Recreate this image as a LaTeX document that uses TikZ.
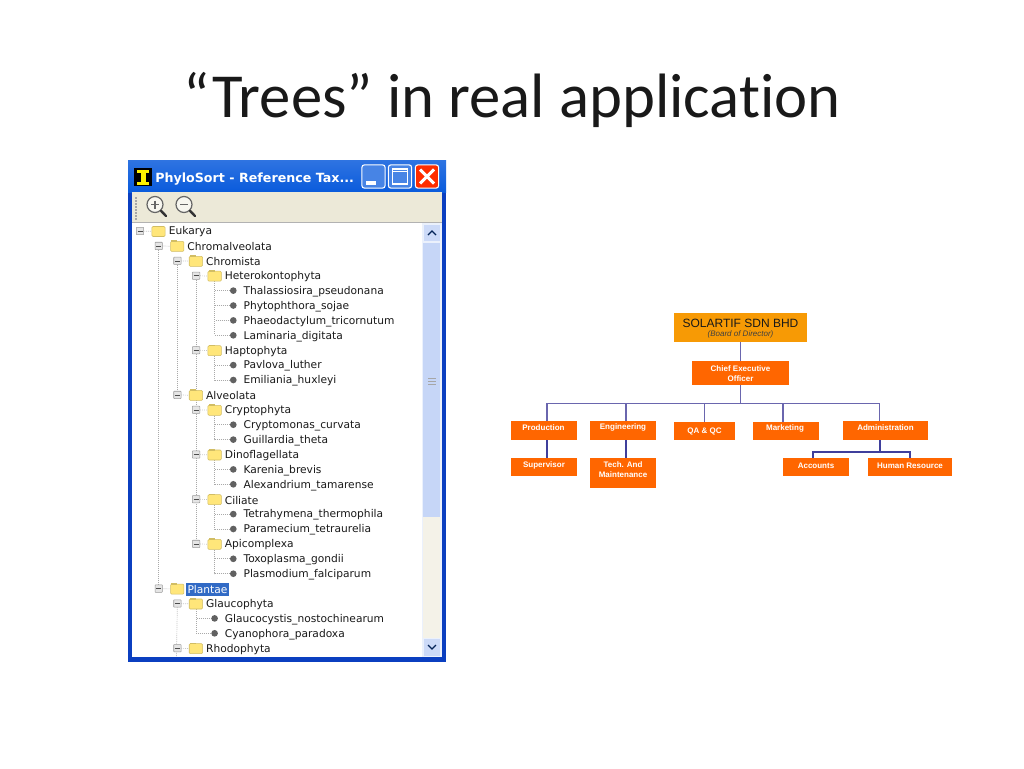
\documentclass[tikz,border=0pt]{standalone}
\usepackage{fontspec}
\setmainfont{Carlito}[RawFeature={-liga;-dlig;-clig}]
\newfontfamily\uifont{DejaVu Sans}
\newfontfamily\orgfont{Liberation Sans}
\usetikzlibrary{backgrounds,shadings}
\definecolor{orgorange}{HTML}{FF6600}
\definecolor{orgtop}{HTML}{F79A05}
\definecolor{orgline}{HTML}{6A66AE}
\definecolor{orgdark}{HTML}{3F3F9C}
\definecolor{xpblue}{HTML}{0A5BDC}
\definecolor{xpdeep}{HTML}{0B3FC0}
\definecolor{xpbeige}{HTML}{ECE9D8}
\definecolor{folderyellow}{HTML}{FFE67A}
\definecolor{treegray}{HTML}{A9A9A9}
\definecolor{thumb}{HTML}{C6D6F7}
\definecolor{selblue}{HTML}{316AC5}
\tikzset{
  x=0.75pt,y=-0.75pt,
  orgbox/.style={fill=orgorange,text=white,font=\orgfont\bfseries\fontsize{6}{7.4}\selectfont,align=center,inner sep=0pt,anchor=center},
  orgcap/.style={inner sep=0pt,text=white,font=\orgfont\bfseries\fontsize{6}{7.4}\selectfont,align=center},
  orglink/.style={draw=orgline,line width=0.9pt},
  orglinkdark/.style={draw=orgdark,line width=1pt},
  treeline/.style={draw=treegray,line width=0.5pt,densely dotted},
  foldernode/.style={draw=black!18!folderyellow,fill=folderyellow,rounded corners=0.8pt,minimum width=10pt,minimum height=7.5pt,inner sep=0pt,line width=0.4pt},
  expander/.style={draw=gray!80,fill=gray!20,minimum size=5.5pt,inner sep=0pt,line width=0.4pt,rounded corners=0.4pt},
  leafdot/.style={circle,fill=black!62,inner sep=0pt,minimum size=5pt},
  treetext/.style={anchor=west,inner sep=0pt,text=black!90,font=\uifont\fontsize{8}{9}\selectfont},
  winbutton/.style={draw=white,line width=0.8pt,rounded corners=2pt,minimum size=17.5pt,inner sep=0pt},
  lens/.style={circle,draw=black!60,line width=0.9pt,fill=xpbeige!40!white,minimum size=12pt,inner sep=0pt},
  handle/.style={line width=1.8pt,draw=black!80,line cap=round}
}
\begin{document}
\begin{tikzpicture}
\useasboundingbox (0,0) rectangle (1024,768);
\begin{pgfonlayer}{background}
\fill[white] (0,0) rectangle (1024,768);
% window chrome
\fill[xpdeep] (128,160) rectangle (446,662);
\shade[top color=xpblue!85!white,bottom color=xpblue] (128,160) rectangle (446,192);
\fill[xpbeige] (132,192) rectangle (442,657);
\fill[white] (132,223) rectangle (422,657);
\draw[black!30,line width=0.4pt] (132,222.5) -- (442,222.5);
\fill[thumb!35!white] (422,223) rectangle (442,657);
\fill[thumb] (423,243) rectangle (440,517);
\fill[xpbeige!60!white] (423,517) rectangle (440,638);
\fill[thumb!90!white] (424,225) rectangle (440,241);
\fill[thumb!90!white] (424,639) rectangle (440,656);
\draw[black!60!xpblue,line width=1pt] (428,235) -- (432,231) -- (436,235);
\draw[black!60!xpblue,line width=1pt] (428,645) -- (432,649) -- (436,645);
\foreach \g in {0,1,2} \draw[black!35,line width=0.4pt] (428,{378+\g*3}) -- (436,{378+\g*3});
\foreach \g in {0,...,7} \fill[black!35] (135,{197+\g*3}) rectangle +(1.5,1.5);
\end{pgfonlayer}

% title
\node[anchor=base,inner sep=0pt,font=\fontsize{47}{50}\selectfont,text=black!90] (slidetitle) at (512,117) {“Trees” in real application};

% window title bar
\node[fill=black,minimum width=13.5pt,minimum height=13pt,inner sep=0pt,text=yellow,font=\rmfamily\bfseries\fontsize{13}{13}\selectfont] (appicon) at (143,177) {};
\fill[yellow] (140.5,171) rectangle (145.5,183);
\fill[yellow] (137,170) rectangle (149,173);
\fill[yellow] (137,181.5) rectangle (149,184.5);
\node[anchor=west,inner sep=0pt,text=white,font=\uifont\bfseries\fontsize{9.5}{11}\selectfont] (wintitle) at (155,179) {PhyloSort - Reference Tax...};
\node[winbutton,fill=xpblue!75!white] (btnmin) at (373.5,176.5) {};
\node[winbutton,fill=xpblue!75!white] (btnmax) at (400,176.5) {};
\node[winbutton,fill=red!65!orange] (btnclose) at (427,176.5) {};
\fill[white] (366,181) rectangle (376,184.5);
\draw[white,line width=0.9pt] (392.5,169) rectangle (407.5,184);
\draw[white,line width=0.9pt] (392.5,171.5) -- (407.5,171.5);
\draw[white,line width=2.2pt] (420,169.5) -- (434,183.5) (434,169.5) -- (420,183.5);

% toolbar
\node[lens] (zoomin) at (155,204.5) {};
\node[lens] (zoomout) at (184,204.5) {};
\coordinate (zoominend) at (166,216);
\coordinate (zoomoutend) at (195,216);
\draw[handle] (zoomin) -- (zoominend);
\draw[handle] (zoomout) -- (zoomoutend);
\draw[black!60,line width=0.8pt] (151,204.5) -- (159,204.5) (155,200.5) -- (155,208.5);
\draw[black!60,line width=0.8pt] (180,204.5) -- (188,204.5);

% tree rows: row / level / kind (0 folder, 1 leaf) / text
\foreach \r/\lv/\k/\t in {
 1/0/0/Eukarya,2/1/0/Chromalveolata,3/2/0/Chromista,4/3/0/Heterokontophyta,
 5/4/1/Thalassiosira\_pseudonana,6/4/1/Phytophthora\_sojae,7/4/1/Phaeodactylum\_tricornutum,8/4/1/Laminaria\_digitata,
 9/3/0/Haptophyta,10/4/1/Pavlova\_luther,11/4/1/Emiliania\_huxleyi,
 12/2/0/Alveolata,13/3/0/Cryptophyta,14/4/1/Cryptomonas\_curvata,15/4/1/Guillardia\_theta,
 16/3/0/Dinoflagellata,17/4/1/Karenia\_brevis,18/4/1/Alexandrium\_tamarense,
 19/3/0/Ciliate,20/4/1/Tetrahymena\_thermophila,21/4/1/Paramecium\_tetraurelia,
 22/3/0/Apicomplexa,23/4/1/Toxoplasma\_gondii,24/4/1/Plasmodium\_falciparum,
 25/1/0/Plantae,26/2/0/Glaucophyta,27/3/1/Glaucocystis\_nostochinearum,28/3/1/Cyanophora\_paradoxa,29/2/0/Rhodophyta}{
  \ifnum\k=0
    \node[expander] (x\r) at ({140+18.7*\lv},{231+14.9*(\r-1)}) {};
    \draw[black!70,line width=0.4pt] ({137.5+18.7*\lv},{231+14.9*(\r-1)}) -- +(5,0);
    \node[foldernode] (f\r) at ({158.5+18.7*\lv},{231.5+14.9*(\r-1)}) {};
    \fill[black!18!folderyellow] ({152.5+18.7*\lv},{225.5+14.9*(\r-1)}) rectangle +(6,1.6);
  \else
    \node[leafdot] (f\r) at ({158.5+18.7*\lv},{231+14.9*(\r-1)}) {};
  \fi
  \ifnum\r=25
    \node[anchor=west,fill=selblue,text=white,inner xsep=0.8pt,inner ysep=2pt,font=\uifont\fontsize{8}{9}\selectfont] (t\r) at ({167.5+18.7*\lv},{232+14.9*(\r-1)}) {\t};
  \else
    \node[treetext] (t\r) at ({168.5+18.7*\lv},{232+14.9*(\r-1)}) {\t};
  \fi
}
\coordinate (treebottom) at (176.4,657);
\begin{pgfonlayer}{background}
  % trunk lines
  \draw[treeline] (x2) -- (x25);
  \draw[treeline] (x3) -- (x12);
  \draw[treeline] (x26) -- (treebottom);
  \draw[treeline] (x4) -- (x22);
  \foreach \r in {1,2,3,4,9,12,13,16,19,22,25,26,29} \draw[treeline] (x\r) -- (f\r);
  \foreach \p/\c in {4/5,4/6,4/7,4/8,9/10,9/11,13/14,13/15,16/17,16/18,19/20,19/21,22/23,22/24,26/27,26/28}
    \draw[treeline] (f\p) |- (f\c);
\end{pgfonlayer}

% organisation chart
\node[fill=orgtop,minimum width=99.75pt,minimum height=21.75pt,inner sep=0pt] (top) at (740.5,327.5) {};
\node[inner sep=0pt,font=\orgfont\fontsize{9}{10}\selectfont,text=black!90] (topname) at (740.5,323) {SOLARTIF SDN BHD};
\node[inner sep=0pt,font=\orgfont\itshape\fontsize{6}{7}\selectfont,text=black!75] (topsub) at (740.5,334) {(Board of Director)};
\node[orgbox,minimum width=72.75pt,minimum height=18pt] (ceo) at (740.5,373) {};
\node[orgcap] (ceotext) at (740.5,373.5) {Chief Executive\\Officer};
\node[orgbox,minimum width=49.5pt,minimum height=14.25pt] (prod) at (544,430.5) {};
\node[orgcap] (prodtext) at (543.5,427.5) {Production};
\node[orgbox,minimum width=49.5pt,minimum height=14.25pt] (eng) at (623,430.5) {};
\node[orgcap] (engtext) at (623,427.5) {Engineering};
\node[orgbox,minimum width=45.75pt,minimum height=13.5pt] (qa) at (704.5,431) {QA \& QC};
\node[orgbox,minimum width=49.5pt,minimum height=13.5pt] (mkt) at (786,431) {};
\node[orgcap] (mkttext) at (785,428.5) {Marketing};
\node[orgbox,minimum width=63.75pt,minimum height=14.25pt] (adm) at (885.5,430.5) {};
\node[orgcap] (admtext) at (885.5,427.5) {Administration};
\node[orgbox,minimum width=49.5pt,minimum height=13.5pt] (sup) at (544,467) {};
\node[orgcap] (suptext) at (544,465.5) {Supervisor};
\node[orgbox,minimum width=49.5pt,minimum height=22.5pt] (tech) at (623,473) {};
\node[orgcap] (techtext) at (623,470) {Tech. And\\Maintenance};
\node[orgbox,minimum width=49.5pt,minimum height=13.5pt] (acc) at (816,467) {};
\node[orgcap] (acctext) at (816,465.5) {Accounts};
\node[orgbox,minimum width=63pt,minimum height=13.5pt] (hr) at (910,467) {};
\node[orgcap] (hrtext) at (910,465.5) {Human Resource};

\coordinate (busc) at (740.5,403.7);
\coordinate (busr) at (879.5,403.7);
\coordinate (engtop) at (626,421);
\coordinate (qatop) at (704.5,422);
\coordinate (mkttop) at (783,422);
\coordinate (prodbot) at (547,440);
\coordinate (suptop) at (547,458);
\coordinate (engbot) at (626,440);
\coordinate (techtop) at (626,458);
\coordinate (admbot) at (880,440);
\coordinate (subbus) at (880,452);
\coordinate (acctop) at (813,458);
\coordinate (hrtop) at (910,458);
\coordinate (prodtop) at (547,421);
\coordinate (admtop) at (879.5,421);

\draw[orglink] (top.south) -- (ceo.north);
\draw[orglink] (ceo.south) -- (busc);
\draw[orglink] (prodtop) |- (busr) -- (admtop);
\draw[orglink] (engtop) -- (engtop |- busc);
\draw[orglink] (qatop) -- (qatop |- busc);
\draw[orglink] (mkttop) -- (mkttop |- busc);
\draw[orglinkdark] (prodbot) -- (suptop);
\draw[orglinkdark] (engbot) -- (techtop);
\draw[orglinkdark] (admbot) -- (subbus);
\draw[orglinkdark] (acctop) |- (subbus) -| (hrtop);
\end{tikzpicture}
\end{document}
